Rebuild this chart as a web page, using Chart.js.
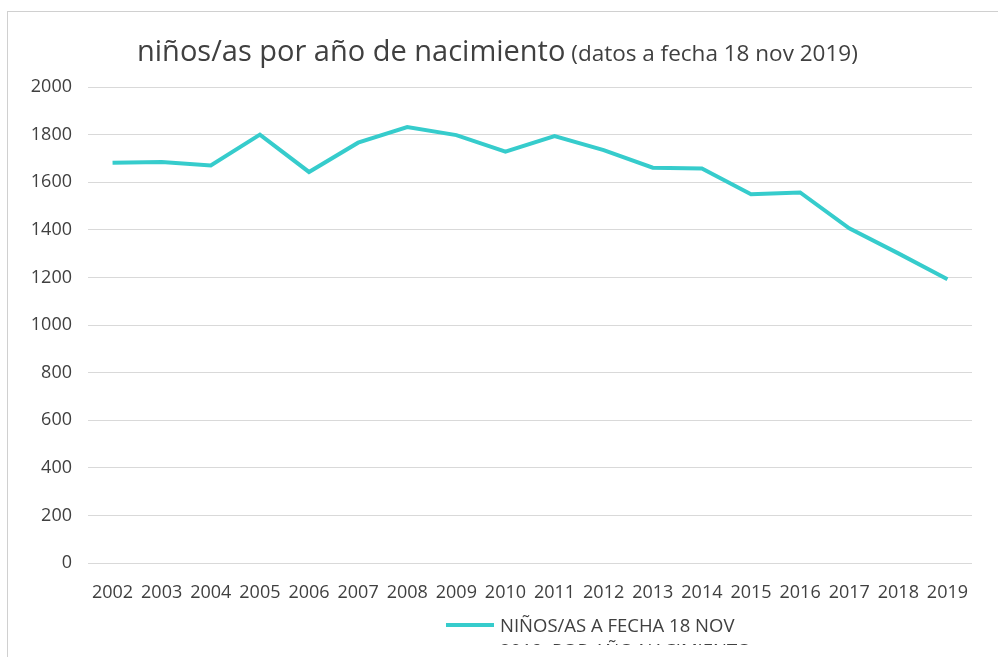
<!DOCTYPE html>
<html>
<head>
<meta charset="utf-8">
<script src="https://cdn.jsdelivr.net/npm/chart.js@4.4.1/dist/chart.umd.min.js"></script>
<style>
  html, body { margin: 0; padding: 0; background: #fff; overflow: hidden; }
  #wrap { position: absolute; left: 0; top: 0; width: 998px; height: 657px; }
  #frame { position: absolute; left: 7px; top: 11px; width: 1100px; height: 800px; border: 1px solid #d0d0d0; box-sizing: border-box; }
  canvas { position: absolute; left: 0; top: 0; }
</style>
</head>
<body>
<div id="wrap">
  <div id="frame"></div>
  <canvas id="c" width="998" height="657"></canvas>
</div>
<script>
const categories = ["2002","2003","2004","2005","2006","2007","2008","2009","2010","2011","2012","2013","2014","2015","2016","2017","2018","2019"];
const values = [1682, 1685, 1670, 1800, 1643, 1766, 1832, 1798, 1728, 1794, 1735, 1661, 1658, 1549, 1557, 1406, 1301, 1192];
const seriesName = "NIÑOS/AS A FECHA 18 NOV 2019, POR AÑO NACIMIENTO";
const legendLines = ["NIÑOS/AS A FECHA 18 NOV", "2019, POR AÑO NACIMIENTO"];
const titleMain = "niños/as por año de nacimiento";
const titleSub = " (datos a fecha 18 nov 2019)";

const FONT = "'Open Sans', 'Noto Sans', sans-serif";
const LINE_COLOR = "#36cccc";
const TEXT_COLOR = "#404040";

const decor = {
  id: 'decor',
  afterDraw(chart) {
    const ctx = chart.ctx;
    ctx.save();
    // Title
    ctx.fillStyle = TEXT_COLOR;
    ctx.textBaseline = 'alphabetic';
    ctx.textAlign = 'left';
    ctx.font = "29px " + FONT;
    const w1 = ctx.measureText(titleMain).width;
    const x = 137;
    ctx.fillText(titleMain, x, 61);
    ctx.font = "22.5px " + FONT;
    ctx.fillText(titleSub, x + w1, 61);
    // Legend
    const lx = 446, ly = 625;
    ctx.strokeStyle = LINE_COLOR;
    ctx.lineWidth = 4;
    ctx.beginPath();
    ctx.moveTo(lx, ly);
    ctx.lineTo(lx + 48, ly);
    ctx.stroke();
    ctx.beginPath();
    ctx.rect(0, 0, 998, 645);
    ctx.clip();
    ctx.fillStyle = TEXT_COLOR;
    ctx.font = "18.5px " + FONT;
    ctx.textBaseline = 'middle';
    ctx.fillText(legendLines[0], lx + 54, ly + 2);
    ctx.fillText(legendLines[1], lx + 54, ly + 27);
    ctx.restore();
  }
};

new Chart(document.getElementById('c'), {
  type: 'line',
  data: {
    labels: categories,
    datasets: [{
      label: seriesName,
      data: values,
      borderColor: LINE_COLOR,
      backgroundColor: LINE_COLOR,
      borderWidth: 4,
      pointRadius: 0,
      tension: 0,
      fill: false
    }]
  },
  options: {
    responsive: false,
    animation: false,
    layout: { padding: { left: 0, right: 26, top: 87, bottom: 44 } },
    plugins: {
      legend: { display: false },
      title: { display: false },
      tooltip: { enabled: false }
    },
    scales: {
      x: {
        offset: true,
        grid: { display: false, drawTicks: false },
        border: { display: false },
        ticks: { color: TEXT_COLOR, font: { family: FONT, size: 18 }, padding: 19, maxRotation: 0, autoSkip: false },
        afterFit(scale) { scale.height = 50; }
      },
      y: {
        min: 0, max: 2000,
        ticks: { stepSize: 200, color: TEXT_COLOR, font: { family: FONT, size: 18 }, padding: 16,
                 callback: (v) => String(v) },
        grid: { color: '#d9d9d9', lineWidth: 1, drawTicks: false },
        border: { display: false },
        afterFit(scale) { scale.width = 88; }
      }
    }
  },
  plugins: [decor]
});
</script>
</body>
</html>
